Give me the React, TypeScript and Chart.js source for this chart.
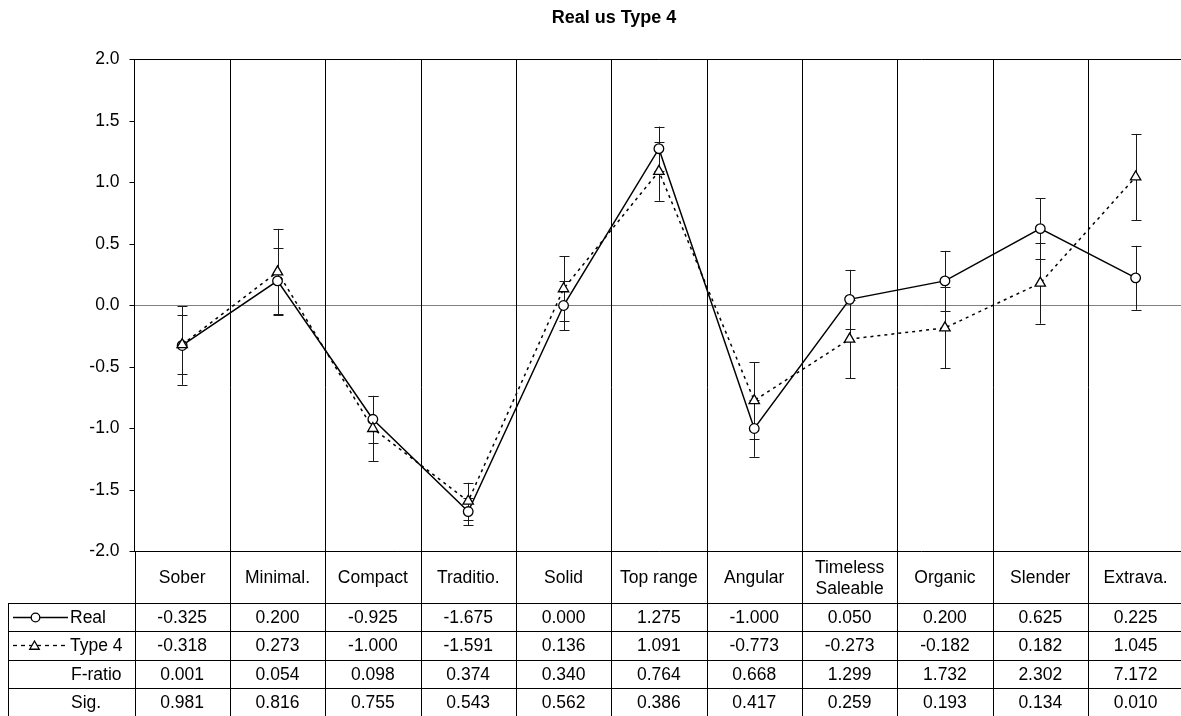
import React, { useEffect, useRef } from 'react';
import { Chart, registerables } from 'chart.js';

Chart.register(...registerables);

const chartTitle = 'Real us Type 4';
const categories = ['Sober', 'Minimal.', 'Compact', 'Traditio.', 'Solid', 'Top range', 'Angular', 'Timeless\nSaleable', 'Organic', 'Slender', 'Extrava.'];
const seriesNames = ['Real', 'Type 4'];
const realValues = [-0.325, 0.2, -0.925, -1.675, 0.0, 1.275, -1.0, 0.05, 0.2, 0.625, 0.225];
const type4Values = [-0.318, 0.273, -1.0, -1.591, 0.136, 1.091, -0.773, -0.273, -0.182, 0.182, 1.045];
const realErrors = [0.32, 0.27, 0.19, 0.11, 0.2, 0.18, 0.23, 0.24, 0.244, 0.245, 0.26];
const type4Errors = [0.24, 0.35, 0.265, 0.15, 0.265, 0.24, 0.31, 0.32, 0.33, 0.33, 0.35];
const statRowNames = ['F-ratio', 'Sig.'];
const fRatios = [0.001, 0.054, 0.098, 0.374, 0.34, 0.764, 0.668, 1.299, 1.732, 2.302, 7.172];
const sigValues = [0.981, 0.816, 0.755, 0.543, 0.562, 0.386, 0.417, 0.259, 0.193, 0.134, 0.01];
const yMin = -2.0;
const yMax = 2.0;
const yStep = 0.5;

const FONT_FAMILY = '"Liberation Sans", Arial, Helvetica, sans-serif';
const CANVAS_W = 1228;
const CANVAS_H = 716;

function drawTriangle(ctx: CanvasRenderingContext2D, x: number, y: number, r: number) {
  ctx.beginPath();
  for (let k = 0; k < 3; k++) {
    const a = (k * 2 * Math.PI) / 3;
    const px = x + Math.sin(a) * r;
    const py = y - Math.cos(a) * r;
    if (k === 0) ctx.moveTo(px, py);
    else ctx.lineTo(px, py);
  }
  ctx.closePath();
  ctx.fillStyle = '#fff';
  ctx.fill();
  ctx.stroke();
}

const tablePlugin = {
  id: 'tableAndBars',
  beforeDatasetsDraw(chart: any) {
    const { ctx, chartArea, scales } = chart;
    const x = scales.x;
    const y = scales.y;
    const n = categories.length;
    const step = x.getPixelForValue(1) - x.getPixelForValue(0);
    const H = chart.height;
    ctx.save();
    ctx.strokeStyle = '#000';
    ctx.lineWidth = 1;
    // column separators through plot and table
    for (let i = 0; i < n; i++) {
      const bx = Math.round(x.getPixelForValue(i) + step / 2) + 0.5;
      ctx.beginPath();
      ctx.moveTo(bx, chartArea.top);
      ctx.lineTo(bx, H);
      ctx.stroke();
    }
    // error bars
    const bars = [
      { vals: realValues, errs: realErrors },
      { vals: type4Values, errs: type4Errors },
    ];
    ctx.strokeStyle = '#1a1a1a';
    ctx.lineWidth = 1;
    bars.forEach((b) => {
      b.vals.forEach((v, i) => {
        const cx = Math.round(x.getPixelForValue(i)) + 0.5;
        const yt = y.getPixelForValue(v + b.errs[i]);
        const yb = y.getPixelForValue(v - b.errs[i]);
        ctx.beginPath();
        ctx.moveTo(cx, yt);
        ctx.lineTo(cx, yb);
        ctx.moveTo(cx - 5, Math.round(yt) + 0.5);
        ctx.lineTo(cx + 5, Math.round(yt) + 0.5);
        ctx.moveTo(cx - 5, Math.round(yb) + 0.5);
        ctx.lineTo(cx + 5, Math.round(yb) + 0.5);
        ctx.stroke();
      });
    });
    ctx.restore();
  },
  afterDraw(chart: any) {
    const { ctx, chartArea, scales } = chart;
    const x = scales.x;
    const H = chart.height;
    const W = chart.width;
    const top = chartArea.bottom;
    const headerH = 51.5;
    const rowH = 28.3;
    const leftEdge = 8;
    const axisX = Math.round(chartArea.left) + 0.5;
    ctx.save();
    // title
    ctx.fillStyle = '#000';
    ctx.font = `bold 18px ${FONT_FAMILY}`;
    ctx.textAlign = 'center';
    ctx.textBaseline = 'middle';
    ctx.fillText(chartTitle, 614, 18);

    ctx.strokeStyle = '#000';
    ctx.lineWidth = 1;
    // axis continuation through table
    ctx.beginPath();
    ctx.moveTo(axisX, top);
    ctx.lineTo(axisX, H);
    ctx.stroke();
    // left border of the label column
    const rowsTop = top + headerH;
    ctx.beginPath();
    ctx.moveTo(leftEdge + 0.5, Math.round(rowsTop) + 0.5);
    ctx.lineTo(leftEdge + 0.5, H);
    ctx.stroke();
    // horizontal row lines
    for (let r = 0; r < 4; r++) {
      const ly = Math.round(rowsTop + r * rowH) + 0.5;
      ctx.beginPath();
      ctx.moveTo(leftEdge, ly);
      ctx.lineTo(W, ly);
      ctx.stroke();
    }
    // header labels
    ctx.fillStyle = '#000';
    ctx.font = `17.5px ${FONT_FAMILY}`;
    ctx.textAlign = 'center';
    ctx.textBaseline = 'middle';
    const headerMid = top + headerH / 2 + 1;
    categories.forEach((c, i) => {
      const cx = x.getPixelForValue(i);
      const lines = c.split('\n');
      const lh = 21;
      lines.forEach((ln, k) => {
        ctx.fillText(ln, cx, headerMid + (k - (lines.length - 1) / 2) * lh);
      });
    });
    // data rows
    const rows = [
      realValues.map((v) => v.toFixed(3)),
      type4Values.map((v) => v.toFixed(3)),
      fRatios.map((v) => v.toFixed(3)),
      sigValues.map((v) => v.toFixed(3)),
    ];
    rows.forEach((row, r) => {
      const cy = rowsTop + r * rowH + rowH / 2 + 1;
      row.forEach((txt, i) => {
        ctx.fillText(txt, x.getPixelForValue(i), cy);
      });
    });
    // row labels
    ctx.textAlign = 'left';
    const labels = [seriesNames[0], seriesNames[1], statRowNames[0], statRowNames[1]];
    labels.forEach((lbl, r) => {
      const cy = rowsTop + r * rowH + rowH / 2 + 1;
      ctx.fillText(lbl, r >= 2 ? 71 : 70, cy);
    });
    // legend symbols
    const cy0 = Math.round(rowsTop + rowH / 2) + 0.5;
    ctx.lineWidth = 1.3;
    ctx.beginPath();
    ctx.moveTo(13, cy0);
    ctx.lineTo(68, cy0);
    ctx.stroke();
    ctx.beginPath();
    ctx.arc(35.5, cy0, 4.3, 0, Math.PI * 2);
    ctx.fillStyle = '#fff';
    ctx.fill();
    ctx.stroke();
    const cy1 = Math.round(rowsTop + rowH * 1.5) + 0.5;
    ctx.setLineDash([4, 4]);
    ctx.beginPath();
    ctx.moveTo(13, cy1);
    ctx.lineTo(68, cy1);
    ctx.stroke();
    ctx.setLineDash([]);
    drawTriangle(ctx, 34.5, cy1 + 1, 5.5);
    ctx.restore();
  },
};

export default function App() {
  const canvasRef = useRef<HTMLCanvasElement | null>(null);

  useEffect(() => {
    if (!canvasRef.current) return;
    const chart = new Chart(canvasRef.current, {
      type: 'line',
      data: {
        labels: categories.map((c) => c.replace('\n', ' ')),
        datasets: [
          {
            label: seriesNames[0],
            data: realValues,
            borderColor: '#000',
            borderWidth: 1.5,
            pointStyle: 'circle',
            pointRadius: 4.8,
            pointBackgroundColor: '#fff',
            pointBorderColor: '#000',
            pointBorderWidth: 1.3,
            fill: false,
            tension: 0,
            order: 2,
          },
          {
            label: seriesNames[1],
            data: type4Values,
            borderColor: '#000',
            borderWidth: 1.5,
            borderDash: [3, 4],
            pointStyle: 'triangle',
            pointRadius: 6,
            pointBackgroundColor: '#fff',
            pointBorderColor: '#000',
            pointBorderWidth: 1.3,
            fill: false,
            tension: 0,
            order: 1,
          },
        ],
      },
      options: {
        responsive: false,
        animation: false,
        devicePixelRatio: 1,
        layout: { padding: { left: 0, right: 44.7, top: 59.5, bottom: CANVAS_H - 551.5 } },
        plugins: {
          legend: { display: false },
          tooltip: { enabled: false },
          title: { display: false },
        },
        scales: {
          x: {
            type: 'category',
            display: false,
            offset: true,
          },
          y: {
            min: yMin,
            max: yMax,
            afterFit: (scale: any) => {
              scale.width = 134.5;
            },
            ticks: {
              stepSize: yStep,
              color: '#000',
              padding: 10,
              font: { family: FONT_FAMILY, size: 17.5 },
              callback: (v: any) => Number(v).toFixed(1),
            },
            grid: {
              drawOnChartArea: true,
              tickLength: 5,
              tickColor: '#000',
              lineWidth: 1,
              color: (c: any) => {
                const v = c.tick ? c.tick.value : null;
                if (v === 0) return '#808080';
                if (v === yMax || v === yMin) return '#000';
                return 'rgba(0,0,0,0)';
              },
            },
            border: { display: true, color: '#000', width: 1 },
          },
        },
      },
      plugins: [tablePlugin],
    });
    return () => chart.destroy();
  }, []);

  return (
    <div style={{ position: 'fixed', left: 0, top: 0, width: 1181, height: 716, overflow: 'hidden', background: '#fff' }}>
      <canvas ref={canvasRef} width={CANVAS_W} height={CANVAS_H} style={{ display: 'block', width: CANVAS_W, height: CANVAS_H }} />
    </div>
  );
}
